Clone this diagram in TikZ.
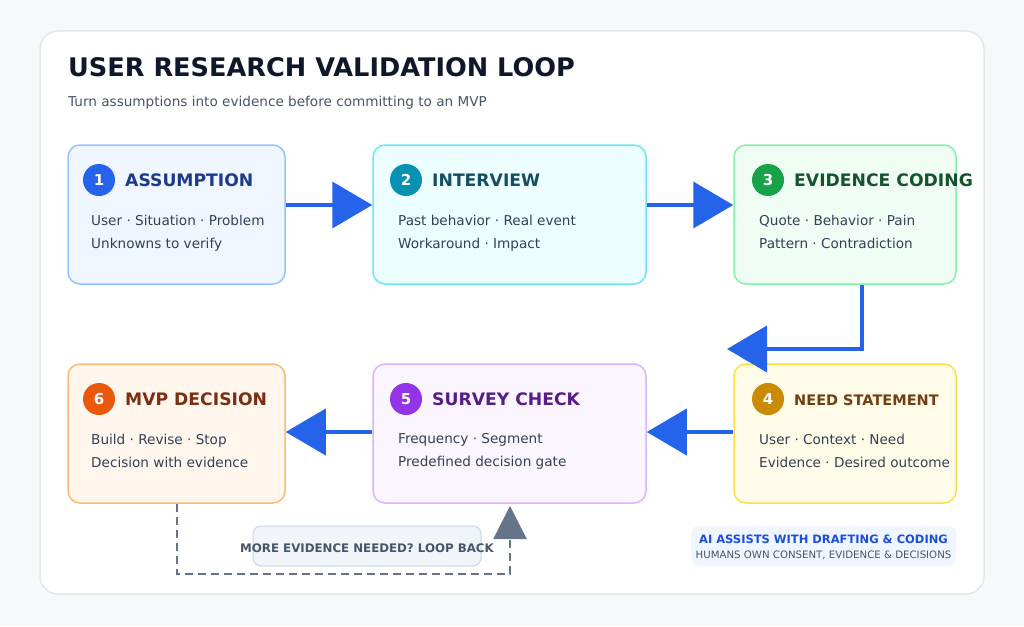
\documentclass[tikz,border=0pt]{standalone}
\usepackage{fontspec}
\setmainfont{DejaVu Sans}
\usetikzlibrary{arrows.meta}
\definecolor{bgc}{HTML}{F7F8FA}
\definecolor{cardb}{HTML}{E2E8F0}
\definecolor{ttl}{HTML}{0F172A}
\definecolor{sub}{HTML}{475569}
\definecolor{bodyc}{HTML}{334155}
\definecolor{arr}{HTML}{2563EB}
\definecolor{loopc}{HTML}{64748B}
\definecolor{f1}{HTML}{EFF6FF}\definecolor{d1}{HTML}{93C5FD}\definecolor{c1}{HTML}{2563EB}\definecolor{t1}{HTML}{1E3A8A}
\definecolor{f2}{HTML}{ECFEFF}\definecolor{d2}{HTML}{67E8F9}\definecolor{c2}{HTML}{0891B2}\definecolor{t2}{HTML}{164E63}
\definecolor{f3}{HTML}{F0FDF4}\definecolor{d3}{HTML}{86EFAC}\definecolor{c3}{HTML}{16A34A}\definecolor{t3}{HTML}{14532D}
\definecolor{f4}{HTML}{FEFCE8}\definecolor{d4}{HTML}{FDE047}\definecolor{c4}{HTML}{CA8A04}\definecolor{t4}{HTML}{713F12}
\definecolor{f5}{HTML}{FAF5FF}\definecolor{d5}{HTML}{D8B4FE}\definecolor{c5}{HTML}{9333EA}\definecolor{t5}{HTML}{581C87}
\definecolor{f6}{HTML}{FFF7ED}\definecolor{d6}{HTML}{FDBA74}\definecolor{c6}{HTML}{EA580C}\definecolor{t6}{HTML}{7C2D12}
\definecolor{notef}{HTML}{EFF6FF}\definecolor{notet}{HTML}{1D4ED8}
\definecolor{lblf}{HTML}{F1F5F9}\definecolor{lbld}{HTML}{CBD5E1}
\tikzset{
  stagebox/.style={draw, line width=1.5pt, rounded corners=12pt, minimum width=217pt, minimum height=139pt, inner sep=0pt},
  numdot/.style={circle, minimum size=32pt, inner sep=0pt, text=white, font=\bfseries\fontsize{15}{15}\selectfont},
  stitle/.style={anchor=west, inner sep=0pt, font=\bfseries\fontsize{17.2}{17.2}\selectfont},
  sbody/.style={anchor=north west, inner sep=0pt, align=left, text=bodyc, font=\fontsize{13.6}{23}\selectfont},
  flow/.style={draw=arr, line width=4pt, -{Triangle[length=40pt,width=46pt]}},
  loopline/.style={draw=loopc, line width=2.5pt, dash pattern=on 8pt off 5pt, -{Triangle[length=33pt,width=33pt]}},
}
\begin{document}
\begin{tikzpicture}[x=1pt,y=-1pt]
\fill[bgc] (0,0) rectangle (1024,626);
\useasboundingbox (0,0) rectangle (1024,626);
\draw[cardb, fill=white, line width=1.5pt, rounded corners=18pt] (40,31) rectangle (984,594);
\node[anchor=base west, inner sep=0pt, text=ttl, font=\bfseries\fontsize{25.6}{25.6}\selectfont] (title) at (68,77) {USER RESEARCH VALIDATION LOOP};
\node[anchor=base west, inner sep=0pt, text=sub, font=\fontsize{13.6}{13.6}\selectfont] (subtitle) at (68,106) {Turn assumptions into evidence before committing to an MVP};

% boxes
\node[stagebox, draw=d1, fill=f1] (b1) at (176.5,214.5) {};
\node[stagebox, draw=d2, fill=f2, minimum width=273pt] (b2) at (509.5,214.5) {};
\node[stagebox, draw=d3, fill=f3, minimum width=222pt] (b3) at (845,214.5) {};
\node[stagebox, draw=d4, fill=f4, minimum width=222pt] (b4) at (845,433.5) {};
\node[stagebox, draw=d5, fill=f5, minimum width=273pt] (b5) at (509.5,433.5) {};
\node[stagebox, draw=d6, fill=f6] (b6) at (176.5,433.5) {};

% headers
\node[numdot, fill=c1] (n1) at (99,180) {1};
\node[stitle, text=t1] (h1) at (125,180) {ASSUMPTION};
\node[sbody] (p1) at (91,214.5) {User · Situation · Problem\\Unknowns to verify};

\node[numdot, fill=c2] (n2) at (406,180) {2};
\node[stitle, text=t2] (h2) at (432,180) {INTERVIEW};
\node[sbody] (p2) at (398,214.5) {Past behavior · Real event\\Workaround · Impact};

\node[numdot, fill=c3] (n3) at (768,180) {3};
\node[stitle, text=t3] (h3) at (794,180) {EVIDENCE CODING};
\node[sbody] (p3) at (759,214.5) {Quote · Behavior · Pain\\Pattern · Contradiction};

\node[numdot, fill=c4] (n4) at (768,399) {4};
\node[stitle, text=t4, font=\bfseries\fontsize{14.5}{14.5}\selectfont] (h4) at (794,400) {NEED STATEMENT};
\node[sbody] (p4) at (759,433.5) {User · Context · Need\\Evidence · Desired outcome};

\node[numdot, fill=c5] (n5) at (406,399) {5};
\node[stitle, text=t5] (h5) at (432,399) {SURVEY CHECK};
\node[sbody] (p5) at (398,433.5) {Frequency · Segment\\Predefined decision gate};

\node[numdot, fill=c6] (n6) at (99,399) {6};
\node[stitle, text=t6] (h6) at (125,399) {MVP DECISION};
\node[sbody] (p6) at (91,433.5) {Build · Revise · Stop\\Decision with evidence};

% arrows
\draw[flow] (b1.east |- 0,205) -- (b2.west |- 0,205);
\draw[flow] (b2.east |- 0,205) -- (b3.west |- 0,205);
\coordinate (t34) at (727,349);
\draw[flow] (b3.south -| 862,0) |- (t34);
\draw[flow] (b4.west |- 0,432) -- (b5.east |- 0,432);
\draw[flow] (b5.west |- 0,432) -- (b6.east |- 0,432);

% loop back
\node[draw=lbld, fill=lblf, line width=1pt, rounded corners=8pt, minimum width=228pt, minimum height=40pt, inner sep=0pt] (lbl) at (367,546) {};
\coordinate (lp) at (510,574);
\draw[loopline] (b6.south -| 177,0) |- (lp) -- (510,506);
\node[text=sub, font=\bfseries\fontsize{11.8}{11.8}\selectfont, inner sep=0pt] (lbltext) at (367,548) {MORE EVIDENCE NEEDED? LOOP BACK};

% note
\node[fill=notef, rounded corners=8pt, minimum width=265pt, minimum height=40pt, inner sep=0pt] (note) at (823.5,546) {};
\node[text=notet, font=\bfseries\fontsize{11.5}{11.5}\selectfont, inner sep=0pt] (note1) at (823.5,539) {AI ASSISTS WITH DRAFTING \& CODING};
\node[text=sub, font=\fontsize{10.2}{10.2}\selectfont, inner sep=0pt] (note2) at (823.5,555) {HUMANS OWN CONSENT, EVIDENCE \& DECISIONS};
\end{tikzpicture}
\end{document}
